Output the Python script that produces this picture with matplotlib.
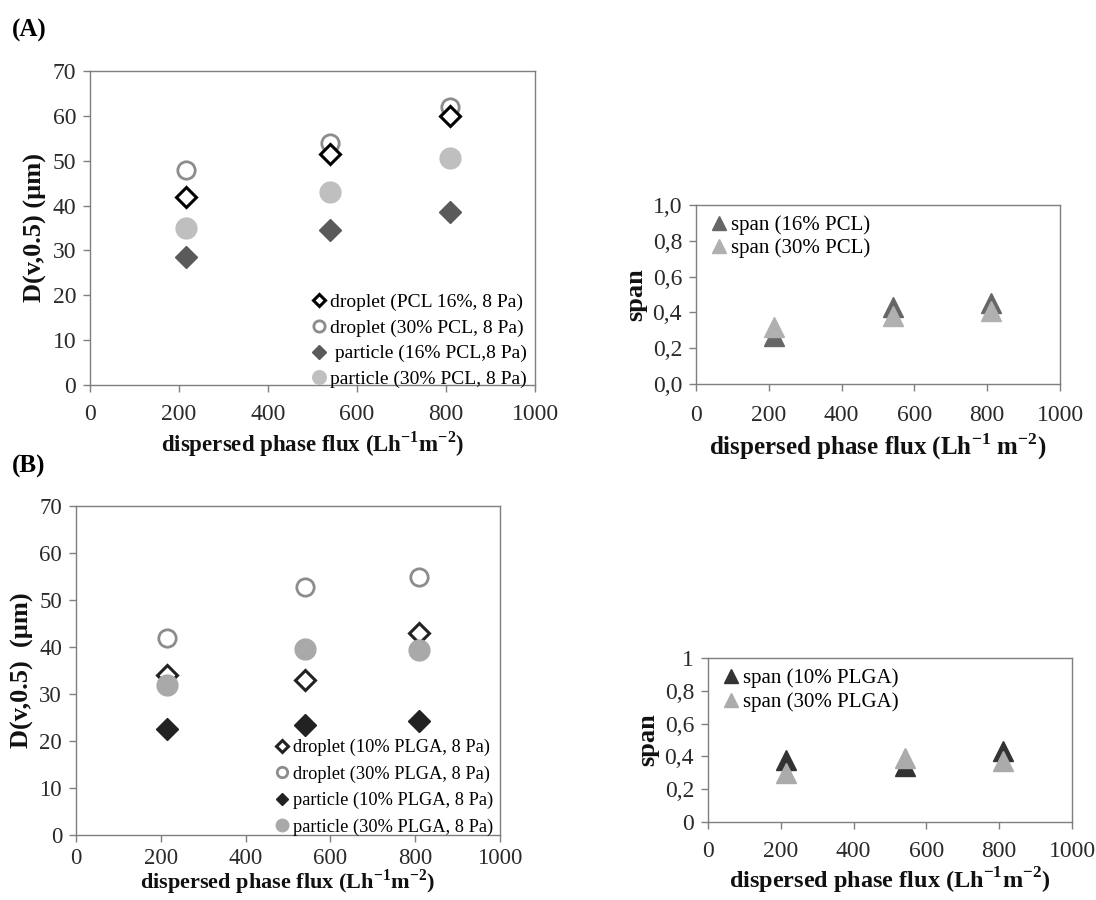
import matplotlib
matplotlib.use("Agg")
import matplotlib.pyplot as plt
from matplotlib.ticker import FixedLocator, FuncFormatter

plt.rcParams['font.family'] = ['Liberation Serif', 'DejaVu Serif']
plt.rcParams['mathtext.fontset'] = 'custom'
plt.rcParams['mathtext.rm'] = 'Liberation Serif'
plt.rcParams['mathtext.bf'] = 'Liberation Serif:bold'

# dispersed phase flux (L h-1 m-2)
flux = [215, 540, 810]

# (A) PCL
pcl_droplet_16 = [42.0, 51.5, 60.0]
pcl_droplet_30 = [48.0, 54.0, 62.0]
pcl_particle_16 = [28.5, 34.5, 38.5]
pcl_particle_30 = [35.0, 43.0, 50.5]
pcl_span_16 = [0.27, 0.43, 0.45]
pcl_span_30 = [0.32, 0.38, 0.41]

# (B) PLGA
plga_droplet_10 = [34.0, 33.0, 43.0]
plga_droplet_30 = [42.0, 52.8, 54.8]
plga_particle_10 = [22.5, 23.5, 24.3]
plga_particle_30 = [32.0, 39.5, 39.3]
plga_span_10 = [0.38, 0.34, 0.43]
plga_span_30 = [0.30, 0.39, 0.37]

x_ticks = [0, 200, 400, 600, 800, 1000]

W, H = 1096, 900
fig = plt.figure(figsize=(W / 100, H / 100), dpi=100)


def box(x0, y0, x1, y1):
    return [x0 / W, 1 - y1 / H, (x1 - x0) / W, (y1 - y0) / H]


def style(ax, ylim, yticks, fmt, xpad=10, size=17):
    ax.set_xlim(0, 1000)
    ax.set_ylim(*ylim)
    ax.xaxis.set_major_locator(FixedLocator(x_ticks))
    ax.yaxis.set_major_locator(FixedLocator(yticks))
    ax.yaxis.set_major_formatter(FuncFormatter(fmt))
    for s in ax.spines.values():
        s.set_color('#7f7f7f')
        s.set_linewidth(1.0)
    ax.tick_params(direction='out', length=5, width=1, color='#7f7f7f',
                   labelsize=size, labelcolor='#2a2a2a')
    ax.tick_params(axis='x', pad=xpad)
    ax.tick_params(axis='y', pad=5)


def int_fmt(v, _):
    return f"{v:.0f}"


def comma1(v, _):
    return f"{v:.1f}".replace('.', ',')


def comma_short(v, _):
    if abs(v - round(v)) < 1e-9:
        return f"{v:.0f}"
    return f"{v:.1f}".replace('.', ',')


xlab = r"dispersed phase flux (Lh$^{\mathbf{-1}}$m$^{\mathbf{-2}}$)"
xlab_sp = r"dispersed phase flux (Lh$^{\mathbf{-1}}$ m$^{\mathbf{-2}}$)"
lab = dict(fontweight='bold', color='#111111')
leg_kw = dict(frameon=False, handletextpad=0.0, handlelength=1.2)

# ---- (A) droplet / particle size, PCL
ax1 = fig.add_axes(box(90, 71, 535, 385))
ax1.plot(flux, pcl_droplet_16, ls='none', marker='D', ms=10, mfc='white',
         mec='black', mew=2.2, label='droplet (PCL 16%, 8 Pa)', zorder=4)
ax1.plot(flux, pcl_droplet_30, ls='none', marker='o', ms=12.5, mfc='none',
         mec='#8c8c8c', mew=2.0, label='droplet (30% PCL, 8 Pa)', zorder=3)
ax1.plot(flux, pcl_particle_16, ls='none', marker='D', ms=11, mfc='#5a5a5a',
         mec='#5a5a5a', label=' particle (16% PCL,8 Pa)', zorder=3)
ax1.plot(flux, pcl_particle_30, ls='none', marker='o', ms=15, mfc='#bfbfbf',
         mec='#bfbfbf', label='particle (30% PCL, 8 Pa)', zorder=2)
style(ax1, (0, 70), range(0, 71, 10), int_fmt, xpad=9)
ax1.set_xlabel(xlab, labelpad=3, fontsize=16.5, **lab)
ax1.set_ylabel("D(v,0.5) (µm)", labelpad=4, fontsize=19, **lab)
ax1.legend(loc='lower right', bbox_to_anchor=(1.0, -0.035), borderaxespad=0,
           markerscale=0.65, fontsize=14, labelspacing=0.42, **leg_kw)

# ---- (A) span, PCL
ax2 = fig.add_axes(box(696, 205, 1060, 384))
ax2.plot(flux, pcl_span_16, ls='none', marker='^', ms=14, color='#666666',
         label='span (16% PCL)', zorder=2)
ax2.plot(flux, pcl_span_30, ls='none', marker='^', ms=14, color='#b0b0b0',
         label='span (30% PCL)', zorder=3)
style(ax2, (0, 1.0), [0, 0.2, 0.4, 0.6, 0.8, 1.0], comma1, xpad=10)
ax2.set_xlabel(xlab_sp, labelpad=4, fontsize=18, **lab)
ax2.set_ylabel("span", labelpad=4, fontsize=19, **lab)
ax2.legend(loc='upper left', borderaxespad=0.1, markerscale=0.75, fontsize=15,
           labelspacing=0.15, **leg_kw)

# ---- (B) droplet / particle size, PLGA
ax3 = fig.add_axes(box(76, 506, 500, 835))
ax3.plot(flux, plga_droplet_10, ls='none', marker='D', ms=10, mfc='white',
         mec='#222222', mew=2.2, label='droplet (10% PLGA, 8 Pa)', zorder=3)
ax3.plot(flux, plga_droplet_30, ls='none', marker='o', ms=12.5, mfc='none',
         mec='#8c8c8c', mew=2.0, label='droplet (30% PLGA, 8 Pa)', zorder=3)
ax3.plot(flux, plga_particle_10, ls='none', marker='D', ms=11, mfc='#222222',
         mec='#222222', label='particle (10% PLGA, 8 Pa)', zorder=3)
ax3.plot(flux, plga_particle_30, ls='none', marker='o', ms=15, mfc='#a9a9a9',
         mec='#a9a9a9', label='particle (30% PLGA, 8 Pa)', zorder=4)
style(ax3, (0, 70), range(0, 71, 10), int_fmt, xpad=4, size=16.5)
ax3.set_xlabel(xlab, labelpad=-1, fontsize=16, **lab)
ax3.set_ylabel("D(v,0.5)  (µm)", labelpad=4, fontsize=19, **lab)
ax3.legend(loc='lower right', bbox_to_anchor=(1.0, -0.025), borderaxespad=0,
           markerscale=0.6, fontsize=13.2, labelspacing=0.5, **leg_kw)

# ---- (B) span, PLGA
ax4 = fig.add_axes(box(708, 658, 1072, 822))
ax4.plot(flux, plga_span_10, ls='none', marker='^', ms=14, color='#333333',
         label='span (10% PLGA)', zorder=2)
ax4.plot(flux, plga_span_30, ls='none', marker='^', ms=14, color='#ababab',
         label='span (30% PLGA)', zorder=3)
style(ax4, (0, 1.0), [0, 0.2, 0.4, 0.6, 0.8, 1.0], comma_short, xpad=9)
ax4.set_xlabel(xlab, labelpad=2, fontsize=17.5, **lab)
ax4.set_ylabel("span", labelpad=4, fontsize=19, **lab)
ax4.legend(loc='upper left', borderaxespad=0.1, markerscale=0.75, fontsize=15,
           labelspacing=0.2, **leg_kw)

fig.text(12 / W, 1 - 30 / H, "(A)", fontsize=18, fontweight='bold', va='center')
fig.text(12 / W, 1 - 466 / H, "(B)", fontsize=18, fontweight='bold', va='center')

fig.savefig("out.png", dpi=100, facecolor='white')
